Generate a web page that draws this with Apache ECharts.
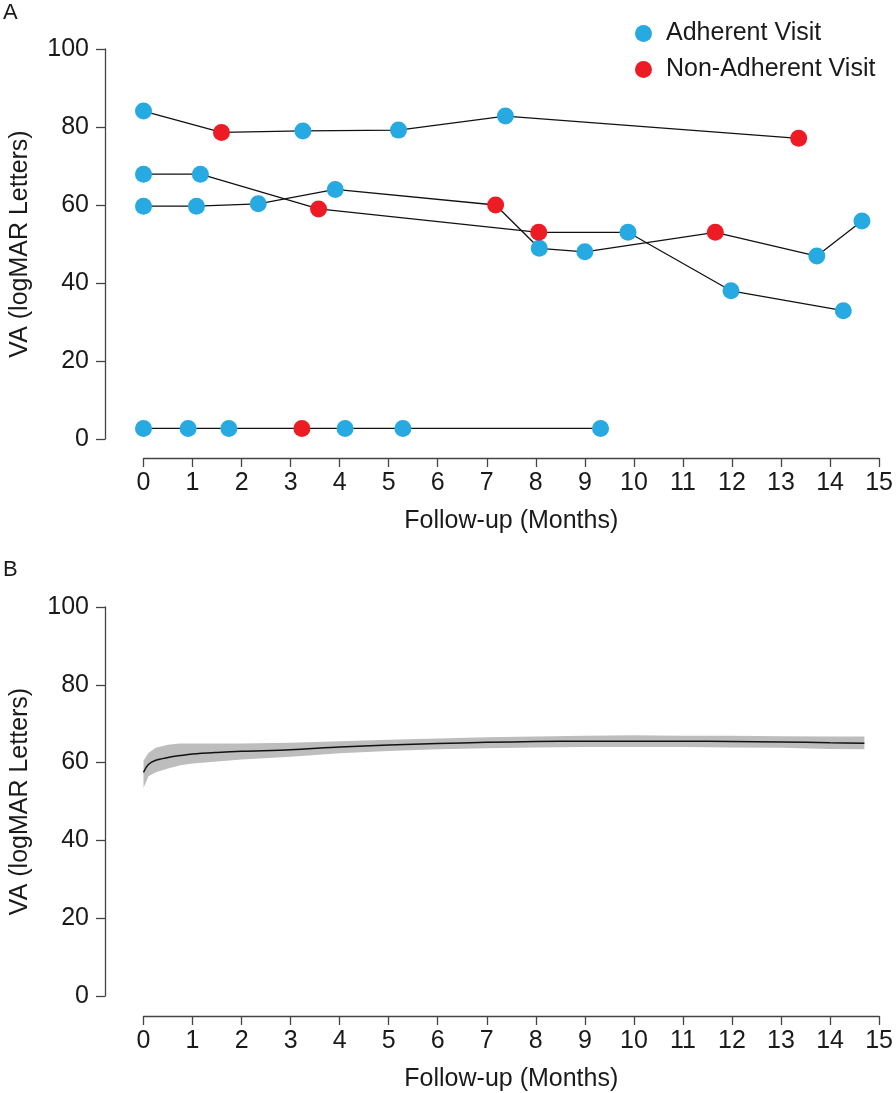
<!DOCTYPE html>
<html>
<head>
<meta charset="utf-8">
<script src="https://cdn.jsdelivr.net/npm/echarts@6/dist/echarts.min.js"></script>
<style>
html,body{margin:0;padding:0;background:#fff;}
#chart{width:896px;height:1093px;}
</style>
</head>
<body>
<div id="chart"></div>
<script>
// ---- Panel A: individual patient trajectories ----
const subj1X = [0, 1.59, 3.25, 5.20, 7.38, 13.36];
const subj1Y = [84.1, 78.6, 79.0, 79.2, 82.8, 77.1];
const subj1Adh = [1, 0, 1, 1, 1, 0];

const subj2X = [0, 1.16, 3.57, 8.06, 9.88, 11.98, 14.27];
const subj2Y = [67.9, 67.9, 59.0, 53.0, 53.0, 38.0, 32.9];
const subj2Adh = [1, 1, 0, 0, 1, 1, 1];

const subj3X = [0, 1.08, 2.34, 3.91, 7.18, 8.07, 9.0, 11.66, 13.73, 14.65];
const subj3Y = [59.7, 59.7, 60.3, 64.0, 60.0, 48.9, 48.0, 53.0, 46.9, 55.9];
const subj3Adh = [1, 1, 1, 1, 0, 1, 1, 0, 1, 1];

const subj4X = [0, 0.91, 1.74, 3.23, 4.11, 5.29, 9.32];
const subj4Y = [2.7, 2.7, 2.7, 2.7, 2.7, 2.7, 2.7];
const subj4Adh = [1, 1, 1, 0, 1, 1, 1];

// ---- Panel B: mean trajectory with confidence band ----
const bandX     = [0, 0.1, 0.25, 0.5, 0.75, 1, 1.5, 2, 3, 4, 5, 6, 7, 8, 9, 10, 11, 12, 13, 14, 14.7];
const meanY     = [57.5, 59.5, 60.6, 61.3, 61.8, 62.2, 62.6, 62.9, 63.3, 64.0, 64.5, 64.9, 65.2, 65.4, 65.5, 65.5, 65.5, 65.4, 65.3, 65.1, 65.0];
const upperY    = [60.5, 62.5, 63.8, 64.6, 64.9, 64.9, 64.9, 64.9, 65.1, 65.5, 65.9, 66.2, 66.5, 66.7, 66.9, 67.0, 66.9, 66.9, 66.8, 66.7, 66.7];
const lowerY    = [53.5, 56.5, 57.5, 58.5, 59.3, 59.8, 60.3, 60.8, 61.5, 62.4, 63.0, 63.4, 63.7, 63.9, 64.0, 64.0, 64.0, 63.9, 63.8, 63.5, 63.4];

const xTicks = [0,1,2,3,4,5,6,7,8,9,10,11,12,13,14,15];
const yTicks = [0,20,40,60,80,100];

const seriesLabels = ['Adherent Visit', 'Non-Adherent Visit'];
const BLUE = '#27A9E1', RED = '#ED1C24';
const FONT = '"Liberation Sans", Arial, Helvetica, sans-serif';
const FS = 25;

const subjects = [
  [subj1X, subj1Y, subj1Adh],
  [subj2X, subj2Y, subj2Adh],
  [subj3X, subj3Y, subj3Adh],
  [subj4X, subj4Y, subj4Adh]
];

const adherentPts = [], nonAdherentPts = [];
subjects.forEach(([xs, ys, ad]) => {
  xs.forEach((x, i) => (ad[i] ? adherentPts : nonAdherentPts).push([x, ys[i]]));
});

const zip = (a, b) => a.map((v, i) => [v, b[i]]);

function xAxisOpt(gridIndex, offset) {
  return {
    type: 'value', gridIndex, min: xTicks[0], max: xTicks[xTicks.length - 1], interval: 1,
    offset,
    name: 'Follow-up (Months)', nameLocation: 'middle', nameGap: 51,
    nameTextStyle: { fontFamily: FONT, fontSize: FS, color: '#1a1a1a' },
    axisLine: { show: true, onZero: false, lineStyle: { color: '#444', width: 1.3 } },
    axisTick: { show: true, length: 9, lineStyle: { color: '#444', width: 1.3 } },
    axisLabel: { fontFamily: FONT, fontSize: FS, color: '#1a1a1a', margin: 13 },
    splitLine: { show: false }
  };
}
function yAxisOpt(gridIndex, offset) {
  return {
    type: 'value', gridIndex, min: yTicks[0], max: yTicks[yTicks.length - 1], interval: 20,
    offset,
    name: 'VA (logMAR Letters)', nameLocation: 'middle', nameGap: 72, nameRotate: 90,
    nameTextStyle: { fontFamily: FONT, fontSize: FS, color: '#1a1a1a' },
    axisLine: { show: true, onZero: false, lineStyle: { color: '#444', width: 1.3 } },
    axisTick: { show: true, length: 9, lineStyle: { color: '#444', width: 1.3 } },
    axisLabel: { fontFamily: FONT, fontSize: FS, color: '#1a1a1a', margin: 16 },
    splitLine: { show: false }
  };
}

const series = [];
subjects.forEach(([xs, ys]) => {
  series.push({
    type: 'line', xAxisIndex: 0, yAxisIndex: 0, data: zip(xs, ys),
    showSymbol: false, symbol: 'none', clip: false,
    lineStyle: { color: '#111', width: 1.3 }, z: 2, silent: true
  });
});
series.push({
  name: seriesLabels[0], type: 'scatter', xAxisIndex: 0, yAxisIndex: 0,
  data: adherentPts, symbol: 'circle', symbolSize: 17, clip: false,
  itemStyle: { color: BLUE, opacity: 1 }, z: 5
});
series.push({
  name: seriesLabels[1], type: 'scatter', xAxisIndex: 0, yAxisIndex: 0,
  data: nonAdherentPts, symbol: 'circle', symbolSize: 17, clip: false,
  itemStyle: { color: RED, opacity: 1 }, z: 5
});

// Panel B band: polygon between lower and upper bounds through the axis scales
series.push({
  type: 'custom', xAxisIndex: 1, yAxisIndex: 1, data: [0], silent: true, z: 1,
  renderItem: function (params, api) {
    const top = bandX.map((x, i) => api.coord([x, upperY[i]]));
    const bot = bandX.map((x, i) => api.coord([x, lowerY[i]])).reverse();
    return {
      type: 'polygon',
      shape: { points: top.concat(bot) },
      style: { fill: '#BDBDBD', stroke: null }
    };
  }
});
series.push({
  type: 'line', xAxisIndex: 1, yAxisIndex: 1, data: zip(bandX, meanY),
  symbol: 'none', smooth: 0.3, lineStyle: { color: '#111', width: 1.5 }, silent: true, z: 3
});

const option = {
  backgroundColor: '#fff',
  animation: false,
  textStyle: { fontFamily: FONT },
  graphic: [
    { type: 'text', left: 3, top: 2, style: { text: 'A', fontSize: 22, fontFamily: FONT, fill: '#1a1a1a' } },
    { type: 'text', left: 3, top: 559, style: { text: 'B', fontSize: 22, fontFamily: FONT, fill: '#1a1a1a' } }
  ],
  legend: {
    data: seriesLabels, orient: 'vertical', left: 630, top: 16,
    icon: 'circle', itemWidth: 17, itemHeight: 17, itemGap: 11,
    textStyle: { fontFamily: FONT, fontSize: FS, color: '#1a1a1a', padding: [0, 0, 0, 9] }
  },
  grid: [
    { left: 139.5, right: 15, top: 49, height: 390 },
    { left: 139.5, right: 15, top: 607, height: 389 }
  ],
  xAxis: [xAxisOpt(0, 19), xAxisOpt(1, 20)],
  yAxis: [yAxisOpt(0, 38.5), yAxisOpt(1, 38.5)],
  series
};

const chart = echarts.init(document.getElementById('chart'), null, { renderer: 'canvas' });
chart.setOption(option);
</script>
</body>
</html>
